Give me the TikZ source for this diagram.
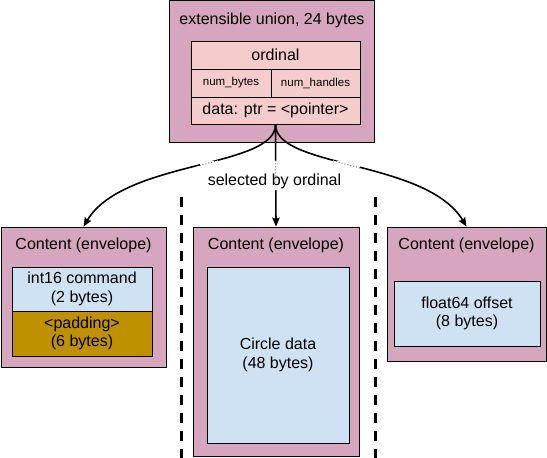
\documentclass[tikz,border=0pt]{standalone}
\usepackage{fontspec}
\setmainfont{Liberation Sans}
\usetikzlibrary{arrows.meta}
\definecolor{envpink}{HTML}{D5A6BD}
\definecolor{hdrpink}{HTML}{F4CCCC}
\definecolor{fieldblue}{HTML}{CFE2F3}
\definecolor{padgold}{HTML}{BF9000}
\begin{document}
\begin{tikzpicture}[x=1pt,y=-1pt,
  box/.style={draw=black, line width=0.9pt, rectangle, inner sep=0pt, align=center,
              font=\fontsize{16}{18.4}\selectfont},
  envbox/.style={box, fill=envpink},
  cellbox/.style={box, fill=hdrpink},
  smallcell/.style={cellbox, font=\fontsize{11.5}{13}\selectfont},
  fieldbox/.style={box, fill=fieldblue},
  padbox/.style={box, fill=padgold},
  lbl/.style={inner sep=0pt, anchor=base, font=\fontsize{16}{18.4}\selectfont},
  conn/.style={line width=1.6pt, -{Stealth[length=9pt,width=7.5pt,inset=1.5pt]}},
  fade/.style={line width=1pt, black!55, dash pattern=on 1pt off 2pt},
  divider/.style={line width=3pt, dash pattern=on 10pt off 8pt},
]
\useasboundingbox (0,0) rectangle (547,458);

% union header
\node[envbox, minimum width=205, minimum height=142] (union) at (272,71.5) {};
\node[lbl] (utitle) at (272,24) {extensible union, 24 bytes};
\node[cellbox, minimum width=169, minimum height=28] (ordinal) at (275.5,55) {ordinal};
\node[smallcell, minimum width=80, minimum height=28] (nbytes) at (231,83) {num\_bytes};
\node[smallcell, minimum width=89, minimum height=28] (nhandles) at (315.5,83) {num\_handles};
\node[cellbox, minimum width=169, minimum height=27] (data) at (275.5,110.5) {data: ptr = <pointer>};

% envelopes
\node[envbox, minimum width=165, minimum height=140] (c1) at (83.5,297) {};
\node[lbl] (t1) at (83.5,249) {Content (envelope)};
\node[fieldbox, minimum width=140, minimum height=44] (cmd) at (82,289) {int16 command\\(2 bytes)};
\node[padbox, minimum width=140, minimum height=45] (pad) at (82,333.5) {<padding>\\(6 bytes)};

\node[envbox, minimum width=166, minimum height=229] (c2) at (276,341.5) {};
\node[lbl] (t2) at (276,249) {Content (envelope)};
\node[fieldbox, minimum width=142, minimum height=176] (circle) at (278,355) {Circle data\\(48 bytes)};

\node[envbox, minimum width=159, minimum height=134] (c3) at (466.5,294) {};
\node[lbl] (t3) at (466.5,249) {Content (envelope)};
\node[fieldbox, minimum width=146, minimum height=65] (offset) at (467,313.5) {float64 offset\\(8 bytes)};

% selection connectors
\draw[conn] (data.south) .. controls +(0,44) and +(40,-67) .. (c1.north);
\draw[conn] (data.south) -- (c2.north);
\draw[conn] (data.south) .. controls +(0,44) and +(-40,-67) .. (c3.north);

% label area, where the connectors show faintly
\node[fill=white, inner sep=0pt, minimum width=160, minimum height=29] (zone) at (280,175.5) {};
\begin{scope}
  \clip (zone.north west) rectangle (zone.south east);
  \draw[fade] (data.south) .. controls +(0,44) and +(40,-67) .. (c1.north);
  \draw[fade] (data.south) -- (c2.north);
  \draw[fade] (data.south) .. controls +(0,44) and +(-40,-67) .. (c3.north);
\end{scope}
\node[lbl] (sel) at (274.5,185) {selected by ordinal};

% dividers between the alternatives
\coordinate (d1top) at (181.5,197);
\coordinate (d1bot) at (181.5,458);
\coordinate (d2top) at (375.5,197);
\coordinate (d2bot) at (375.5,458);
\draw[divider] (d1top) -- (d1bot);
\draw[divider] (d2top) -- (d2bot);
\end{tikzpicture}
\end{document}
